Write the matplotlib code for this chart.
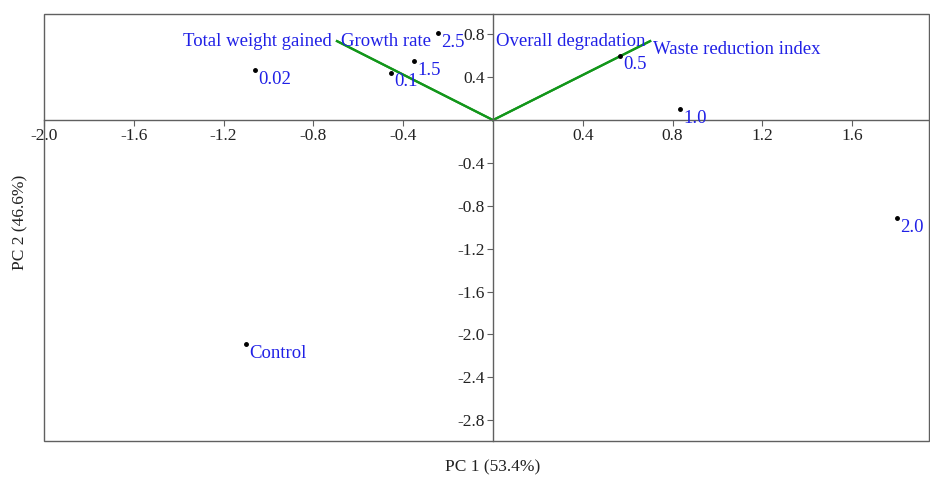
import matplotlib
matplotlib.use("Agg")
import matplotlib.pyplot as plt
from matplotlib.patches import Rectangle

# Scores (sample points)
point_labels = ["0.02", "0.1", "1.5", "2.5", "0.5", "1.0", "2.0", "Control"]
pc1_scores = [-1.06, -0.454, -0.352, -0.245, 0.566, 0.833, 1.80, -1.10]
pc2_scores = [0.466, 0.44, 0.55, 0.81, 0.60, 0.10, -0.914, -2.09]

# Loadings (variable vectors)
loading_names = ["Total weight gained", "Growth rate", "Overall degradation", "Waste reduction index"]
loading_pc1 = [-0.695, -0.695, 0.70, 0.70]
loading_pc2 = [0.737, 0.737, 0.737, 0.737]

xticks = [-2.0, -1.6, -1.2, -0.8, -0.4, 0.4, 0.8, 1.2, 1.6]
yticks = [0.8, 0.4, -0.4, -0.8, -1.2, -1.6, -2.0, -2.4, -2.8]

plt.rcParams['font.family'] = ['Liberation Serif', 'DejaVu Serif']
BLUE = '#2020e6'
GREEN = '#12961a'
GRAY = '#606060'

fig = plt.figure(figsize=(9.3, 4.8), dpi=100)
ax = fig.add_axes([44/930, 1-441/480, (929-44)/930, (441-14)/480])
ax.set_xlim(-2.0, 1.942)
ax.set_ylim(-2.995, 0.99)

for s in ['top', 'right']:
    ax.spines[s].set_visible(False)
ax.spines['left'].set_position(('data', 0))
ax.spines['bottom'].set_position(('data', 0))
for s in ['left', 'bottom']:
    ax.spines[s].set_color(GRAY)
    ax.spines[s].set_linewidth(1.0)
ax.add_patch(Rectangle((0, 0), 1, 1, transform=ax.transAxes, fill=False,
                       edgecolor=GRAY, linewidth=1.0, clip_on=False, zorder=0))

ax.set_xticks(xticks)
ax.set_xticklabels([f"{v:.1f}" for v in xticks])
ax.set_yticks(yticks)
ax.set_yticklabels([f"{v:.1f}" for v in yticks])
ax.tick_params(axis='both', direction='out', length=4, color=GRAY, labelsize=12.5,
               labelcolor='#222222', pad=2)

# loadings
for name, lx, ly in zip(loading_names, loading_pc1, loading_pc2):
    ax.plot([0, lx], [0, ly], color=GREEN, lw=1.6, zorder=2)

offs = {
    "Total weight gained": (-5, 0, 'right', 'center'),
    "Growth rate": (4, 0, 'left', 'center'),
    "Overall degradation": (-5, 0, 'right', 'center'),
    "Waste reduction index": (3, -8, 'left', 'center'),
}
for name, lx, ly in zip(loading_names, loading_pc1, loading_pc2):
    dx, dy, ha, va = offs[name]
    ax.annotate(name, (lx, ly), xytext=(dx, dy), textcoords='offset pixels',
                ha=ha, va=va, color=BLUE, fontsize=13.5, zorder=3)

# scores
ax.plot(pc1_scores, pc2_scores, 'o', color='black', ms=2.5, zorder=4, ls='none')
for lab, x, y in zip(point_labels, pc1_scores, pc2_scores):
    ax.annotate(lab, (x, y), xytext=(3, -9), textcoords='offset pixels',
                ha='left', va='center', color=BLUE, fontsize=13.5, zorder=5)

fig.text(493/930, 1-467/480, "PC 1 (53.4%)", ha='center', va='center', fontsize=12.5, color='#222222')
fig.text(20/930, 1-222/480, "PC 2 (46.6%)", ha='center', va='center', rotation=90, fontsize=12.5, color='#222222')

fig.savefig("out.png", dpi=100)
